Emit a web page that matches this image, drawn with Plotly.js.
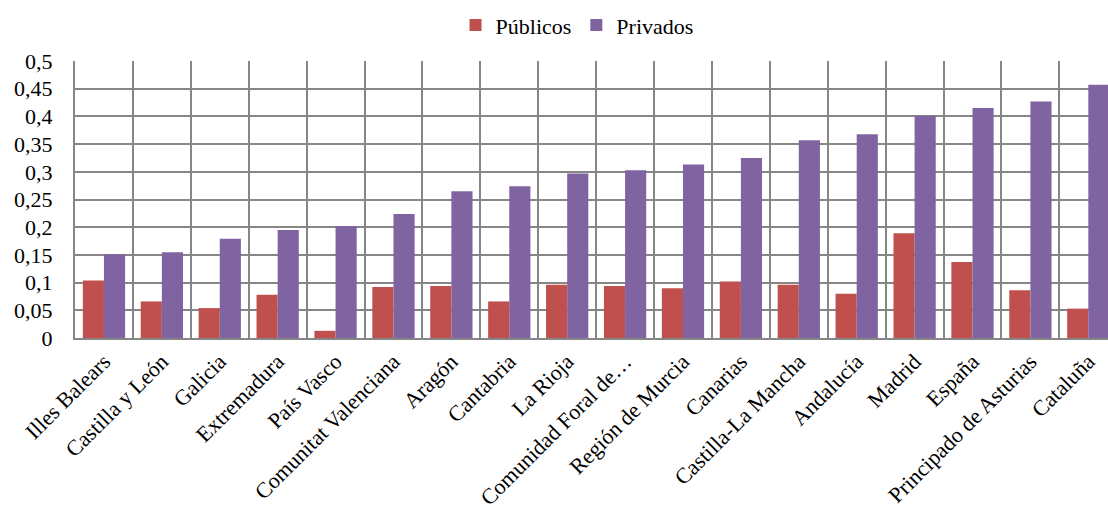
<!DOCTYPE html>
<html>
<head>
<meta charset="utf-8">
<script src="https://cdn.plot.ly/plotly-3.0.1.min.js"></script>
<style>html,body{margin:0;padding:0;background:#fff;}#chart{width:1108px;height:514px;}</style>
</head>
<body>
<div id="chart"></div>
<script>
var categories = ["Illes Balears","Castilla y León","Galicia","Extremadura","País Vasco","Comunitat Valenciana","Aragón","Cantabria","La Rioja","Comunidad Foral de…","Región de Murcia","Canarias","Castilla-La Mancha","Andalucía","Madrid","España","Principado de Asturias","Cataluña"];
var publicos = [0.104,0.066,0.054,0.078,0.013,0.092,0.094,0.066,0.096,0.094,0.090,0.102,0.096,0.080,0.189,0.137,0.086,0.053];
var privados = [0.151,0.155,0.179,0.195,0.202,0.224,0.265,0.274,0.297,0.303,0.313,0.325,0.357,0.368,0.401,0.415,0.427,0.457];
var yTickVals = [0,0.05,0.1,0.15,0.2,0.25,0.3,0.35,0.4,0.45,0.5];
var yTickText = ["0","0,05","0,1","0,15","0,2","0,25","0,3","0,35","0,4","0,45","0,5"];

var font = "Liberation Serif";
var traces = [
  {type:'bar', name:'Públicos', x:categories, y:publicos, marker:{color:'#C0504D'}},
  {type:'bar', name:'Privados', x:categories, y:privados, marker:{color:'#8064A2'}}
];
var layout = {
  width:1108, height:514,
  margin:{l:75, r:0, t:61, b:176, pad:0},
  paper_bgcolor:'#fff', plot_bgcolor:'#fff',
  font:{family:font, size:22, color:'#000'},
  barmode:'group', bargap:0.27, bargroupgap:0,
  showlegend:true,
  legend:{orientation:'h', x:0.486, xanchor:'center', y:0.951, yref:'container', yanchor:'middle', font:{family:font, size:22, color:'#000'}},
  xaxis:{type:'category', range:[-0.5,17.34], tickson:'boundaries', tickangle:-45, showgrid:true, gridcolor:'#868686', gridwidth:2,
         showline:true, linecolor:'#868686', linewidth:2, ticks:'', automargin:false, tickfont:{family:font, size:22, color:'#000'}},
  yaxis:{range:[0,0.5], tickvals:yTickVals, ticktext:yTickText, showgrid:true, gridcolor:'#868686', gridwidth:2,
         showline:true, linecolor:'#868686', linewidth:2, ticks:'', ticklabelstandoff:16, automargin:false, zeroline:false,
         tickfont:{family:font, size:22, color:'#000'}}
};
Plotly.newPlot('chart', traces, layout, {displayModeBar:false, staticPlot:true});
</script>
</body>
</html>
